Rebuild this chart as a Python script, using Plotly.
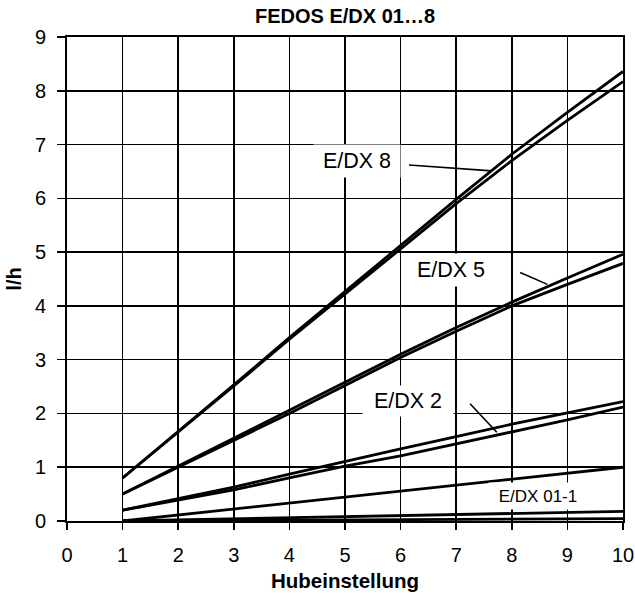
import plotly.graph_objects as go

# Hubeinstellung (stroke setting)
stroke = [1, 2, 3, 4, 5, 6, 7, 8, 9, 10]

# flow rate l/h, two curves per pump size
edx8_a = [0.80, 1.66, 2.53, 3.41, 4.27, 5.12, 5.98, 6.82, 7.60, 8.36]
edx8_b = [0.80, 1.65, 2.51, 3.38, 4.22, 5.06, 5.90, 6.70, 7.45, 8.17]
edx5_a = [0.50, 1.02, 1.54, 2.06, 2.58, 3.10, 3.60, 4.07, 4.52, 4.96]
edx5_b = [0.50, 1.00, 1.50, 2.00, 2.52, 3.04, 3.53, 4.00, 4.40, 4.79]
edx2_a = [0.20, 0.41, 0.63, 0.87, 1.11, 1.34, 1.57, 1.80, 2.01, 2.22]
edx2_b = [0.20, 0.39, 0.58, 0.80, 1.02, 1.21, 1.43, 1.65, 1.88, 2.12]
edx1 = [0.00, 0.11, 0.22, 0.33, 0.44, 0.55, 0.66, 0.77, 0.89, 1.00]
edx01_a = [0.00, 0.02, 0.04, 0.06, 0.08, 0.10, 0.12, 0.14, 0.16, 0.18]
edx01_b = [0.00, 0.005, 0.01, 0.015, 0.02, 0.025, 0.03, 0.035, 0.04, 0.045]

series = {
    "E/DX 8 a": edx8_a, "E/DX 8 b": edx8_b,
    "E/DX 5 a": edx5_a, "E/DX 5 b": edx5_b,
    "E/DX 2 a": edx2_a, "E/DX 2 b": edx2_b,
    "E/DX 1": edx1,
    "E/DX 01 a": edx01_a, "E/DX 01 b": edx01_b,
}

x_ticks = [0, 1, 2, 3, 4, 5, 6, 7, 8, 9, 10]
y_ticks = [0, 1, 2, 3, 4, 5, 6, 7, 8, 9]

FONT = "Liberation Sans, Arial, sans-serif"

fig = go.Figure()
for name, vals in series.items():
    fig.add_trace(go.Scatter(x=stroke, y=vals, mode="lines", name=name,
                             line=dict(color="black", width=2.8),
                             hoverinfo="skip"))

labels = [
    # text, x, y, width, height, size, leader (x0, y0, x1, y1)
    ("E/DX 8", 5.21, 6.70, 84, 30, 21.5, (6.15, 6.62, 7.64, 6.51)),
    ("E/DX 5", 6.91, 4.67, 92, 30, 21.5, (8.15, 4.62, 8.64, 4.40)),
    ("E/DX 2", 6.13, 2.23, 88, 28, 21.5, (7.25, 2.18, 7.73, 1.65)),
    ("E/DX 01-1", 8.47, 0.47, 96, 24, 17, None),
]
for text, lx, ly, w, h, size, leader in labels:
    fig.add_annotation(x=lx, y=ly, xref="x", yref="y", text=text,
                       showarrow=False, bgcolor="white", width=w, height=h,
                       font=dict(family=FONT, size=size, color="black"))
    if leader:
        fig.add_shape(type="line", xref="x", yref="y",
                      x0=leader[0], y0=leader[1], x1=leader[2], y1=leader[3],
                      line=dict(color="black", width=1.6), layer="above")

axis_common = dict(
    showgrid=True, gridcolor="black", gridwidth=1.6,
    showline=True, linecolor="black", linewidth=1.8, mirror=True,
    ticks="outside", tickcolor="black", tickwidth=1.6,
    zeroline=False, automargin=False,
    tickfont=dict(family=FONT, size=20, color="black"),
)

fig.update_layout(
    width=635, height=594, autosize=False,
    margin=dict(l=67, r=12, t=37, b=73),
    paper_bgcolor="white", plot_bgcolor="white",
    showlegend=False,
    title=dict(text="FEDOS E/DX 01…8", x=0.5, xref="paper", xanchor="center",
               y=1 - 16 / 594, yref="container", yanchor="middle",
               font=dict(family=FONT, size=20, color="black", weight="bold"),
               automargin=False),
    xaxis=dict(range=[0, 10], tickvals=x_ticks, ticklen=7,
               ticklabelstandoff=8,
               title=dict(text="Hubeinstellung", standoff=9,
                          font=dict(family=FONT, size=20.5, color="black", weight="bold")),
               **axis_common),
    yaxis=dict(range=[0, 9], tickvals=y_ticks, ticklen=8,
               ticklabelstandoff=7,
               title=dict(text="l/h", standoff=8,
                          font=dict(family=FONT, size=20, color="black", weight="bold")),
               **axis_common),
)

fig.write_html("out.html",
               config={"responsive": False, "displayModeBar": False, "staticPlot": True},
               post_script="document.body.style.margin='0px';document.body.style.overflow='hidden';")
